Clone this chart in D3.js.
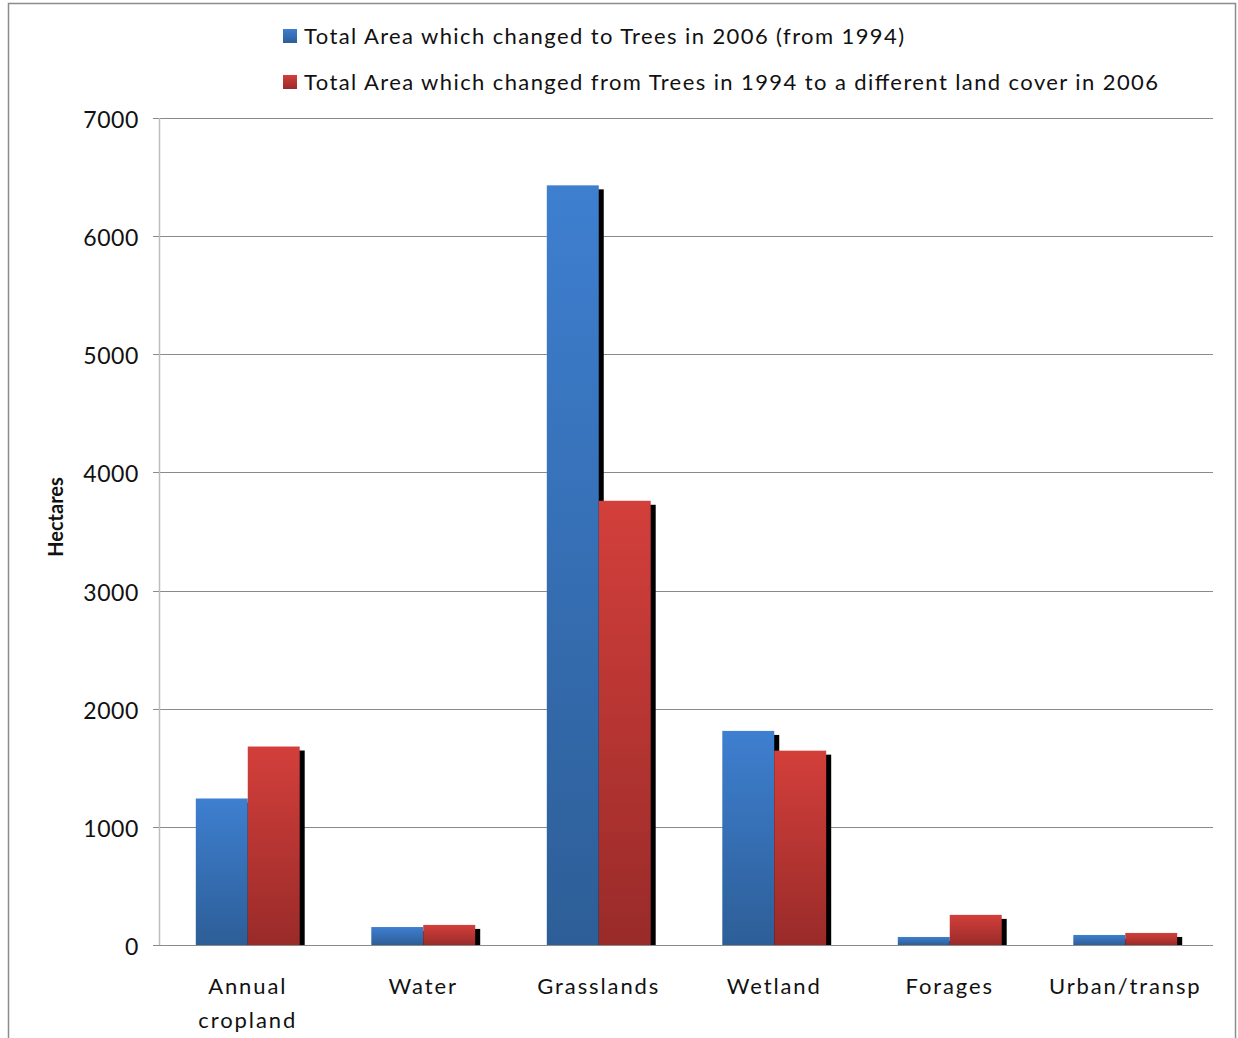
<!DOCTYPE html>
<html lang="en">
  <head>
    <meta charset="UTF-8" />
    <title>Land cover change - d3</title>
    <script src="https://d3js.org/d3.v7.min.js"></script>
  </head>
  <style>
    html,
    body {
      margin: 0;
      padding: 0;
      background: #fff;
    }
    text {
      font-family: Lato, "Open Sans", sans-serif;
      fill: #111;
    }
  </style>
  <body>
    <script>
      // data
      var categories = ["Annual cropland", "Water", "Grasslands", "Wetland", "Forages", "Urban/transp"];
      var toTrees = [1240, 152, 6430, 1812, 68, 85];
      var fromTrees = [1680, 170, 3760, 1645, 255, 102];
      var seriesNames = [
        "Total Area which changed to Trees in 2006 (from 1994)",
        "Total Area which changed from Trees in 1994 to a different land cover in 2006"
      ];
      var yTicks = [0, 1000, 2000, 3000, 4000, 5000, 6000, 7000];

      var W = 1238, H = 1038;
      // note: "top" is reserved on window, so use a plot box object
      var plot = { left: 160, right: 1213, top: 118, bottom: 945 };

      var svg = d3.select("body").append("svg").attr("width", W).attr("height", H);

      // gradients
      var defs = svg.append("defs");
      var grads = [
        { id: "gBlue", c1: "#3e7fd0", c2: "#2d5e97" },
        { id: "gRed", c1: "#d33f3b", c2: "#992b29" }
      ];
      grads.forEach(function (g) {
        var lg = defs.append("linearGradient").attr("id", g.id)
          .attr("x1", 0).attr("y1", 0).attr("x2", 0).attr("y2", 1);
        lg.append("stop").attr("offset", "0%").attr("stop-color", g.c1);
        lg.append("stop").attr("offset", "100%").attr("stop-color", g.c2);
      });
      defs.append("clipPath").attr("id", "plotClip")
        .append("rect").attr("x", plot.left).attr("y", 0)
        .attr("width", plot.right - plot.left).attr("height", plot.bottom);

      // outer frame
      svg.append("path")
        .attr("d", "M8.5," + H + "V3.5H1235.5V" + H)
        .attr("fill", "none").attr("stroke", "#8c8c8c").attr("stroke-width", 1.5);

      var y = d3.scaleLinear().domain([0, 7000]).range([plot.bottom, plot.top]);
      var x = d3.scaleBand().domain(categories).range([plot.left, plot.right]);
      var inner = d3.scaleBand().domain([0, 1]).range([0, x.bandwidth() * 0.592]);
      var off = (x.bandwidth() - inner.range()[1]) / 2;

      // gridlines
      svg.append("g").selectAll("line").data(yTicks).enter().append("line")
        .attr("x1", plot.left - 7).attr("x2", plot.right)
        .attr("y1", function (d) { return Math.round(y(d)) + 0.5; })
        .attr("y2", function (d) { return Math.round(y(d)) + 0.5; })
        .attr("stroke", "#8a8a8a").attr("stroke-width", 1.2);

      // y axis line
      svg.append("line").attr("x1", plot.left - 0.5).attr("x2", plot.left - 0.5)
        .attr("y1", plot.top).attr("y2", plot.bottom)
        .attr("stroke", "#bdbdbd").attr("stroke-width", 1.5);

      // tick labels
      svg.append("g").selectAll("text").data(yTicks).enter().append("text")
        .attr("x", 139)
        .attr("y", function (d) { return y(d) + 10; })
        .attr("text-anchor", "end")
        .attr("font-size", 23)
        .attr("letter-spacing", 0.6)
        .text(function (d) { return d; });

      // axis title
      svg.append("text")
        .attr("transform", "translate(63,517) rotate(-90)")
        .attr("text-anchor", "middle")
        .attr("font-size", 20)
        .attr("font-weight", "bold")
        .text("Hectares");

      var rows = categories.map(function (c, i) {
        return { cat: c, vals: [toTrees[i], fromTrees[i]] };
      });

      var bars = svg.append("g").attr("clip-path", "url(#plotClip)");
      // shadows first
      rows.forEach(function (r) {
        r.vals.forEach(function (v, j) {
          var bx = x(r.cat) + off + inner(j);
          bars.append("rect")
            .attr("x", bx + 5).attr("y", y(v) + 4)
            .attr("width", inner.bandwidth()).attr("height", plot.bottom - y(v))
            .attr("fill", "#000");
        });
      });
      rows.forEach(function (r) {
        r.vals.forEach(function (v, j) {
          var bx = x(r.cat) + off + inner(j);
          bars.append("rect")
            .attr("x", bx).attr("y", y(v))
            .attr("width", inner.bandwidth()).attr("height", plot.bottom - y(v))
            .attr("fill", j === 0 ? "url(#gBlue)" : "url(#gRed)");
        });
      });

      // baseline over bars
      svg.append("line").attr("x1", plot.left - 7).attr("x2", plot.right)
        .attr("y1", plot.bottom + 0.5).attr("y2", plot.bottom + 0.5)
        .attr("stroke", "#8a8a8a").attr("stroke-width", 1.2);

      // category labels
      var catLines = {
        "Annual cropland": ["Annual", "cropland"]
      };
      categories.forEach(function (c) {
        var lines = catLines[c] || [c];
        var t = svg.append("text")
          .attr("x", x(c) + x.bandwidth() / 2)
          .attr("y", 994)
          .attr("text-anchor", "middle")
          .attr("font-size", 22)
          .attr("letter-spacing", 1.9);
        lines.forEach(function (l, k) {
          t.append("tspan").attr("x", x(c) + x.bandwidth() / 2)
            .attr("dy", k === 0 ? 0 : 34).text(l);
        });
      });

      // legend
      var legendW = [600, 854];
      seriesNames.forEach(function (s, i) {
        var ly = 36 + i * 46;
        svg.append("rect").attr("x", 283).attr("y", ly - 7).attr("width", 14).attr("height", 14)
          .attr("fill", i === 0 ? "url(#gBlue)" : "url(#gRed)");
        svg.append("text").attr("x", 304).attr("y", ly + 8)
          .attr("font-size", 22)
          .attr("textLength", legendW[i]).attr("lengthAdjust", "spacing")
          .text(s);
      });
    </script>
  </body>
</html>
